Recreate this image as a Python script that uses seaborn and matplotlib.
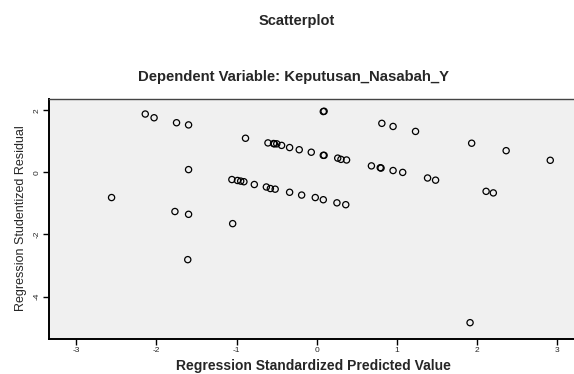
import matplotlib
matplotlib.use("Agg")
import matplotlib.pyplot as plt
import seaborn as sns
import pandas as pd

# regression standardized predicted value (x) and studentized residual (y)
pred = [-2.56, -2.14, -2.03, -1.75, -1.60, -1.60, -1.77, -1.60, -1.61, -0.89, -1.05,
        -0.61, -0.54, -0.53, -0.50, -0.44, -0.34, -0.22, -0.07, 0.08, 0.09, 0.26, 0.30, 0.37,
        -1.06, -0.99, -0.95, -0.91, -0.78, -0.63, -0.58, -0.52, -0.34, -0.19, -0.02, 0.08, 0.25, 0.36,
        0.68, 0.79, 0.80, 0.95, 1.07, 1.38, 1.48, 2.11, 2.20,
        0.08, 0.09, 0.81, 0.95, 1.23, 1.93, 2.36, 2.91, 1.91]
resid = [-0.81, 1.88, 1.76, 1.60, 1.53, 0.09, -1.26, -1.35, -2.81, 1.10, -1.65,
         0.95, 0.93, 0.92, 0.92, 0.87, 0.80, 0.73, 0.65, 0.55, 0.55, 0.46, 0.42, 0.40,
         -0.23, -0.26, -0.28, -0.30, -0.39, -0.47, -0.52, -0.54, -0.64, -0.73, -0.81, -0.88, -0.98, -1.04,
         0.21, 0.15, 0.14, 0.06, 0.00, -0.18, -0.25, -0.61, -0.66,
         1.96, 1.97, 1.58, 1.48, 1.32, 0.94, 0.70, 0.39, -4.84]

x_ticks = [-3, -2, -1, 0, 1, 2, 3]
y_ticks = [2, 0, -2, -4]

df = pd.DataFrame({"pred": pred, "resid": resid})

sns.set_style("white")
plt.rcParams["font.family"] = ["Liberation Sans", "DejaVu Sans"]

fig = plt.figure(figsize=(5.74, 3.74), dpi=100)
fig.patch.set_facecolor("white")
ax = fig.add_axes([0.0854, 0.0949, 0.9417, 0.6417])
ax.set_facecolor("#f0f0f0")

sns.scatterplot(data=df, x="pred", y="resid", ax=ax, marker="o", s=20,
                color="black", edgecolor="black", linewidth=0.9, legend=False)
ax.collections[0].set_facecolor("none")

ax.set_xlim(-3.34, 3.40)
ax.set_ylim(-5.35, 2.38)
ax.set_xticks(x_ticks)
ax.set_yticks(y_ticks)
ax.set_xticklabels([str(t) for t in x_ticks], fontsize=6)
ax.set_yticklabels([str(t) for t in y_ticks], fontsize=6, rotation=90, va="center")
ax.tick_params(axis="both", direction="out", length=4, width=1, color="black", pad=2,
               bottom=True, left=True)

for side in ["left", "bottom"]:
    ax.spines[side].set_color("black")
    ax.spines[side].set_linewidth(1.4)
ax.spines["top"].set_color("#444444")
ax.spines["top"].set_linewidth(1.0)
ax.spines["right"].set_visible(False)

ax.set_xlabel("Regression Standardized Predicted Value", fontsize=10, fontweight="bold")
ax.set_ylabel("Regression Studentized Residual", fontsize=9)
ax.xaxis.set_label_coords((313 - 49) / 540.5, -0.085)
ax.yaxis.set_label_coords(-0.041, 0.5)

fig.text(297 / 574, 1 - 21 / 374, "Scatterplot", ha="center", va="center",
         fontsize=10.5, fontweight="bold")
fig.text(293 / 574, 1 - 77 / 374, "Dependent Variable: Keputusan_Nasabah_Y", ha="center",
         va="center", fontsize=10.7, fontweight="bold")

fig.savefig("out.png", dpi=100)
